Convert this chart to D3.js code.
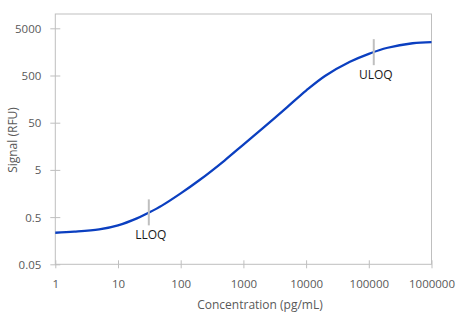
<!DOCTYPE html>
<html><head><meta charset="utf-8">
<script src="https://cdn.jsdelivr.net/npm/d3@7"></script>
<style>body{margin:0;background:#fff}svg{display:block}text{font-family:"Open Sans",sans-serif}</style>
</head><body>
<svg id="chart" width="466" height="325"></svg>
<script>
const concentration = [1, 2, 5, 10, 20, 30, 50, 100, 200, 500, 1000, 2000, 5000, 10000, 20000, 50000, 100000, 200000, 500000, 1000000];
const signal = [0.233, 0.245, 0.274, 0.334, 0.47, 0.61, 0.875, 1.59, 3.05, 7.9, 17.2, 37.5, 107, 239, 488, 975, 1440, 1936, 2410, 2553];
const xTicks = [1, 10, 100, 1000, 10000, 100000, 1000000];
const yTicks = [0.05, 0.5, 5, 50, 500, 5000];
const markers = [{label: "LLOQ", conc: 31, sig: 0.63}, {label: "ULOQ", conc: 120000, sig: 1560}];

const svg = d3.select("#chart");
const L = 55.3, R = 431.5, T = 14, B = 264.3;
const x = d3.scaleLog().domain([1, 1000000]).range([L, R]);
const decade = (B - 28.3) / Math.log10(5000 / 0.05);
const yTop = 0.05 * Math.pow(10, (B - T) / decade);
const y = d3.scaleLog().domain([0.05, yTop]).range([B, T]);
const grey = "#bfbfbf", txt = "#595959";

// frame
svg.append("rect").attr("x", L).attr("y", T).attr("width", R - L).attr("height", B - T)
  .attr("fill", "none").attr("stroke", grey).attr("stroke-width", 1);

// x axis
const xa = svg.append("g").attr("transform", `translate(0,${B})`)
  .call(d3.axisBottom(x).tickValues(xTicks).tickFormat(d3.format("d")).tickSize(0));
xa.select(".domain").remove();
xa.selectAll(".tick line").remove();
xa.selectAll(".tick").append("line").attr("y1", -4).attr("y2", 4).attr("stroke", grey);
xa.selectAll("text").attr("y", 23.5).attr("dy", 0).attr("fill", txt).style("font-size", "11.5px");

// y axis
const ya = svg.append("g").attr("transform", `translate(${L},0)`)
  .call(d3.axisLeft(y).tickValues(yTicks).tickFormat(d => String(d)).tickSize(0));
ya.select(".domain").remove();
ya.selectAll(".tick line").remove();
ya.selectAll(".tick").append("line").attr("x1", -5).attr("x2", 5).attr("stroke", grey);
ya.selectAll("text").attr("x", -14).attr("dy", "0.35em").attr("fill", txt).style("font-size", "11.5px");

// titles
svg.append("text").attr("x", 260).attr("y", 309).attr("text-anchor", "middle")
  .attr("fill", txt).style("font-size", "12px").text("Concentration (pg/mL)");
svg.append("text").attr("transform", "translate(16.5,140) rotate(-90)").attr("text-anchor", "middle")
  .attr("fill", txt).style("font-size", "12px").text("Signal (RFU)");

// curve
const pts = concentration.map((c, i) => [c, signal[i]]);
svg.append("path").datum(pts)
  .attr("d", d3.line().x(d => x(d[0])).y(d => y(d[1])).curve(d3.curveCatmullRom.alpha(0.5)))
  .attr("fill", "none").attr("stroke", "#0b3fc0").attr("stroke-width", 2.3);

// markers
markers.forEach(m => {
  const cx = x(m.conc), cy = y(m.sig);
  svg.append("line").attr("x1", cx).attr("x2", cx).attr("y1", cy - 13).attr("y2", cy + 13)
    .attr("stroke", "#bfbfbf").attr("stroke-width", 2);
  svg.append("text").attr("x", cx + 2).attr("y", cy + 27).attr("text-anchor", "middle")
    .attr("fill", "#1a1a1a").style("font-size", "12px").text(m.label);
});
</script>
</body></html>
